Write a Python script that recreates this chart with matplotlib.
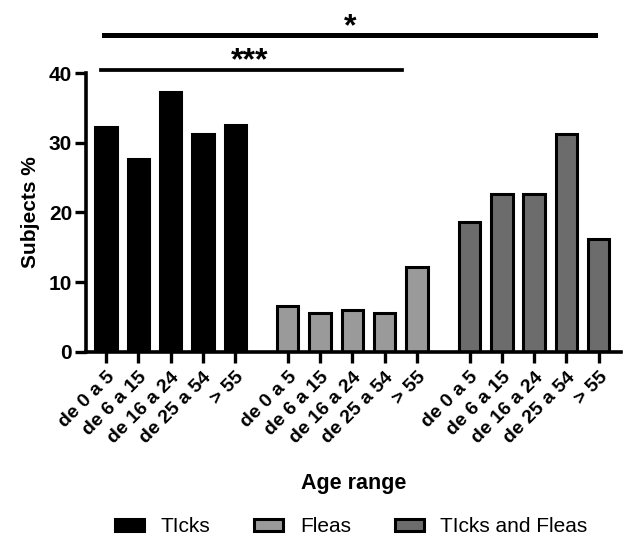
import numpy as np
import matplotlib.pyplot as plt
from matplotlib.patches import Patch

plt.rcParams['font.family'] = ['Liberation Sans', 'DejaVu Sans']

age_labels = ['de 0 a 5', 'de 6 a 15', 'de 16 a 24', 'de 25 a 54', '> 55']
groups = ['Ticks', 'Fleas', 'Ticks and Fleas']
legend_labels = ['TIcks', 'Fleas', 'TIcks and Fleas']
ticks_vals = [32.2, 27.7, 37.3, 31.3, 32.5]
fleas_vals = [6.6, 5.55, 6.0, 5.55, 12.2]
both_vals = [18.7, 22.7, 22.7, 31.2, 16.2]
colors = ['#000000', '#9a9a9a', '#6c6c6c']

fig = plt.figure(figsize=(6.25, 5.42), dpi=100)
ax = fig.add_axes([0.1376, 0.3506, 0.856, 0.5147])

offset = 5.63
all_pos = []
all_lab = []
for g, vals in enumerate([ticks_vals, fleas_vals, both_vals]):
    pos = np.arange(len(vals)) + g * offset
    ax.bar(pos, vals, width=0.66, color=colors[g], edgecolor='black', linewidth=2.2)
    all_pos += list(pos)
    all_lab += age_labels

ax.set_xlim(-0.62, 15.95)
ax.set_ylim(0, 40)
ax.set_yticks([0, 10, 20, 30, 40])
ax.set_xticks(all_pos)
ax.set_xticklabels(all_lab, rotation=45, ha='right', rotation_mode='anchor',
                   fontsize=14, fontweight='bold')
for lab in ax.get_yticklabels():
    lab.set_fontweight('bold')
    lab.set_fontsize(15)
ax.tick_params(axis='both', width=2.4, length=8)
ax.tick_params(axis='x', pad=4)
ax.tick_params(axis='y', pad=2)
for s in ['top', 'right']:
    ax.spines[s].set_visible(False)
for s in ['left', 'bottom']:
    ax.spines[s].set_linewidth(2.6)

ax.set_ylabel('Subjects %', fontsize=15, fontweight='bold', labelpad=6)
ax.set_xlabel('Age range', fontsize=15.5, fontweight='bold', labelpad=19)

# significance bars
ax.plot([-0.15, 9.16], [40.4, 40.4], color='black', lw=2.7, clip_on=False)
ax.text(4.46, 40.55, '***', ha='center', va='baseline', fontsize=23, fontweight='bold')
ax.plot([-0.05, 15.15], [45.5, 45.5], color='black', lw=3.6, clip_on=False)
ax.text(7.55, 45.4, '*', ha='center', va='baseline', fontsize=23, fontweight='bold')

handles = [Patch(facecolor=c, edgecolor='black', linewidth=2.2) for c in colors]
fig.legend(handles, legend_labels, loc='center', bbox_to_anchor=(0.562, 0.028),
           ncol=3, frameon=False, fontsize=15, handlelength=1.4, handleheight=0.55,
           columnspacing=2.1, handletextpad=0.8)

fig.savefig('out.png', dpi=100)
